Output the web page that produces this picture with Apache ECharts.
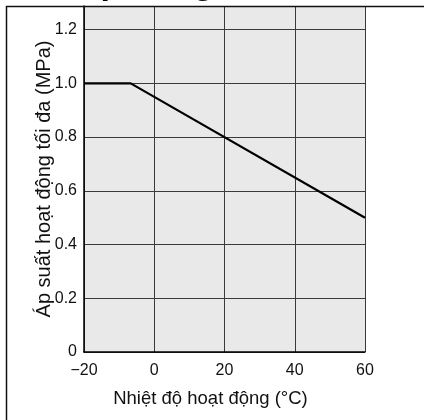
<!DOCTYPE html>
<html>
<head>
<meta charset="utf-8">
<script src="https://cdn.jsdelivr.net/npm/echarts@6/dist/echarts.min.js"></script>
<style>
html,body{margin:0;padding:0;background:#fff;}
#c{width:424px;height:420px;}
</style>
</head>
<body>
<div id="c"></div>
<script>
const titleText = 'Áp dụng';
const xName = 'Nhiệt độ hoạt động (°C)';
const yName = 'Áp suất hoạt động tối đa (MPa)';
const xTicks = [-20, 0, 20, 40, 60];
const yTicks = [0, 0.2, 0.4, 0.6, 0.8, 1.0, 1.2];
const temps = [-20, -6.7, 60];
const pressures = [1.0, 1.0, 0.5];

const FONT = 'Liberation Sans';
const chart = echarts.init(document.getElementById('c'), null, {renderer: 'canvas'});
chart.setOption({
  animation: false,
  backgroundColor: '#fff',
  title: {
    text: titleText, left: 71, top: -37,
    textStyle: {fontFamily: FONT, fontSize: 34, fontWeight: 'bold', color: '#000', lineHeight: 34}
  },
  graphic: [{
    type: 'rect', shape: {x: 6.5, y: 6.5, width: 440, height: 440},
    style: {fill: null, stroke: '#111', lineWidth: 1.5}, z: 100
  }],
  grid: {
    left: 84, right: 59, top: 6, bottom: 68,
    show: true, backgroundColor: '#e9e9e9', borderWidth: 0,
    outerBoundsMode: 'none'
  },
  xAxis: {
    type: 'value', min: xTicks[0], max: xTicks[xTicks.length - 1], interval: 20,
    name: xName, nameLocation: 'middle', nameGap: 37, nameMoveOverlap: false,
    nameTextStyle: {fontFamily: FONT, fontSize: 18.5, color: '#111', padding: [0, 28, 0, 0]},
    axisLine: {show: true, onZero: false, lineStyle: {color: '#000', width: 1.5}},
    axisTick: {show: false},
    axisLabel: {fontFamily: FONT, fontSize: 16, color: '#111', margin: 11,
      formatter: v => String(v).replace('-', '\u2212')},
    splitLine: {show: true, lineStyle: {color: '#3a3a3a', width: 1}}
  },
  yAxis: {
    type: 'value', min: yTicks[0], max: 1.288, interval: 0.2,
    name: yName, nameLocation: 'middle', nameGap: 29.5, nameMoveOverlap: false,
    nameTextStyle: {fontFamily: FONT, fontSize: 20, color: '#111'},
    axisLine: {show: true, onZero: false, lineStyle: {color: '#000', width: 1.5}},
    axisTick: {show: false},
    axisLabel: {fontFamily: FONT, fontSize: 16, color: '#111', margin: 7, showMaxLabel: false,
      formatter: v => (v === 0 ? '0' : v.toFixed(1))},
    splitLine: {show: true, lineStyle: {color: '#3a3a3a', width: 1}}
  },
  series: [{
    type: 'line', data: temps.map((t, i) => [t, pressures[i]]),
    symbol: 'none', lineStyle: {color: '#000', width: 2.2}, z: 10
  }]
});
</script>
</body>
</html>
